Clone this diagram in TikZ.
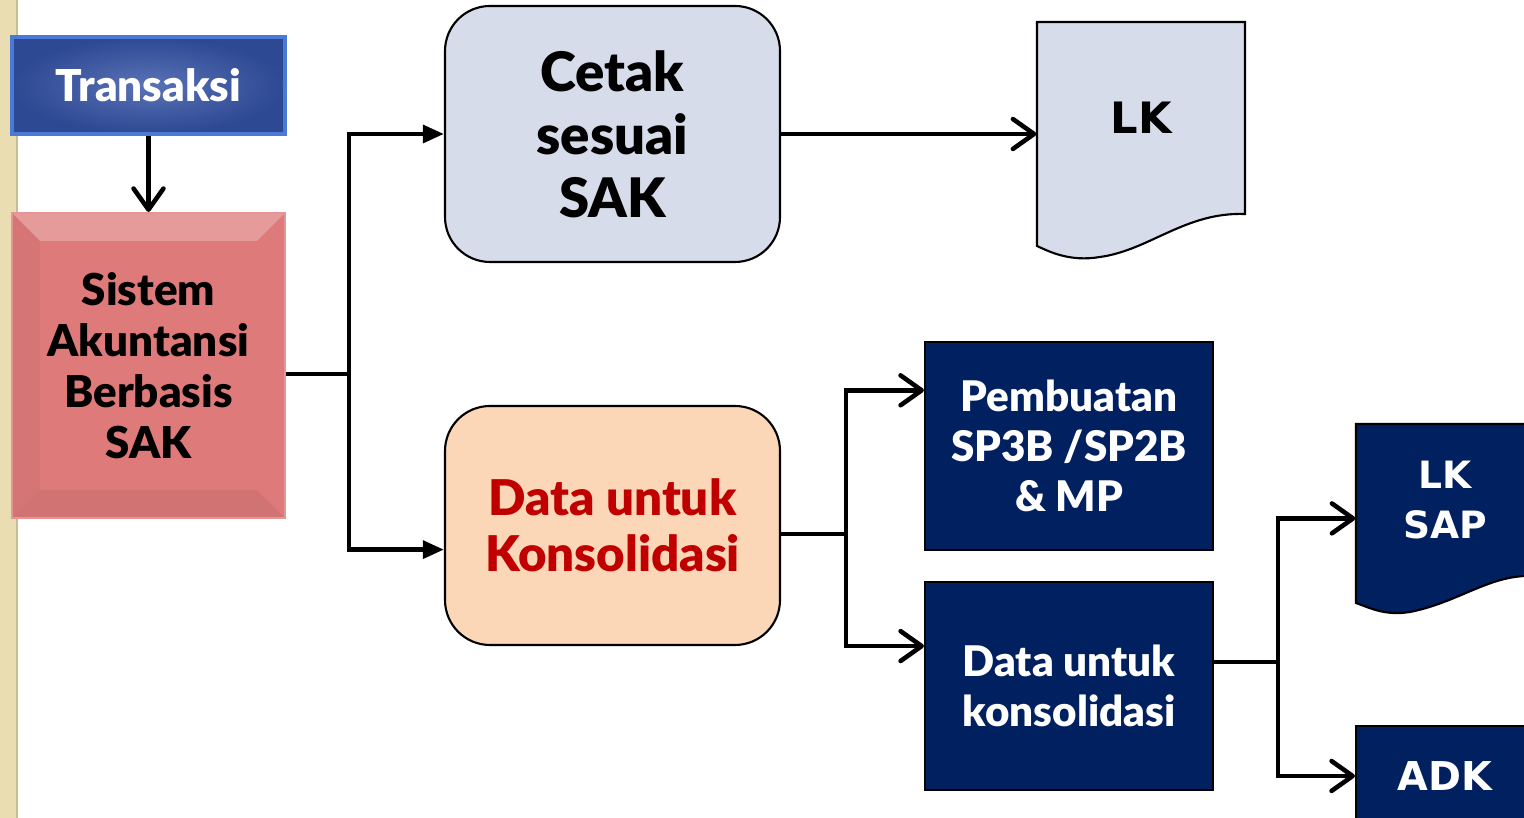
\documentclass[tikz,border=0pt]{standalone}
\usepackage{fontspec}
\setmainfont{Lato}[BoldFont={Lato Black}]
\newfontfamily\verdanafont{DejaVu Sans}
\usetikzlibrary{calc, positioning, arrows.meta}
\definecolor{navy}{HTML}{002060}
\definecolor{cetakblue}{HTML}{D7DCEA}
\definecolor{peach}{HTML}{FBD6B7}
\definecolor{konred}{HTML}{C00000}
\definecolor{sakred}{HTML}{DE7A7A}
\definecolor{transin}{HTML}{5A72B6}
\definecolor{transout}{HTML}{2D4993}
\definecolor{transedge}{HTML}{4A7AD6}
\definecolor{strip}{HTML}{E9DDB1}
\tikzset{
  font=\bfseries,
  % Set arrowhead
  >={Triangle[length=6pt, width=5pt]},
  % Open arrowhead
  barb/.style={-{Straight Barb[round, length=6pt, width=8.5pt]}},
  % Connectors
  conn/.style={line width=1.3pt},
  % General box
  box/.style={draw, line width=0.6pt, inner sep=0pt, align=center},
  % Top input box
  transbox/.style={box, draw=transedge, line width=1.1pt, inner color=transin,
    outer color=transout, text=white, minimum width=2.73cm, minimum height=0.97cm,
    font=\bfseries\fontsize{12.5}{15}\selectfont},
  % Bevelled system box
  sakbox/.style={box, draw=sakred!80!white, fill=sakred, minimum width=2.73cm,
    minimum height=3.05cm, font=\bfseries\fontsize{12.5}{14.5}\selectfont,
    path picture={
      \fill[white, opacity=0.25] (path picture bounding box.north west)
        -- (path picture bounding box.north east) -- ++(-0.28,-0.28)
        -- ($(path picture bounding box.north west)+(0.28,-0.28)$) -- cycle;
      \fill[black, opacity=0.05] (path picture bounding box.south west)
        -- (path picture bounding box.south east) -- ++(-0.28,0.28)
        -- ($(path picture bounding box.south west)+(0.28,0.28)$) -- cycle;
      \fill[black, opacity=0.04] (path picture bounding box.north west)
        -- (path picture bounding box.south west) -- ++(0.28,0.28)
        -- ($(path picture bounding box.north west)+(0.28,-0.28)$) -- cycle;
    }},
  % Rounded process boxes
  rbox/.style={box, rounded corners=0.45cm, minimum width=3.35cm},
  cetakbox/.style={rbox, fill=cetakblue, minimum height=2.56cm,
    font=\bfseries\fontsize{15.5}{17.9}\selectfont},
  kbox/.style={rbox, fill=peach, text=konred, minimum height=2.39cm,
    font=\bfseries\fontsize{14}{15.9}\selectfont},
  % Dark output boxes
  nbox/.style={box, fill=navy, text=white, minimum width=2.88cm, minimum height=2.08cm,
    font=\bfseries\fontsize{12}{14.2}\selectfont},
  % Document shapes
  docline/.style={line width=0.6pt},
  docnode/.style={inner sep=0pt, align=center},
}
\begin{document}
\begin{tikzpicture}
    \useasboundingbox (0,0) rectangle (15.24,-8.18);
    \clip (0,0) rectangle (15.24,-8.18);

    % left margin strip
    \fill[strip] (0,0) rectangle (0.17,-8.18);
    \draw[strip!85!black, line width=0.4pt] (0.17,0) -- (0.17,-8.18);

    \node[transbox] (trans) at (1.485,-0.855) {Transaksi};
    \node[sakbox] (sistem) at (1.485,-3.655) {Sistem\\Akuntansi\\Berbasis\\SAK};

    \node[cetakbox] (cetak) at (6.125,-1.34) {Cetak\\sesuai\\SAK};
    \node[kbox] (datak) at (6.125,-5.255) {Data untuk\\Konsolidasi};

    \node[nbox] (pemb) at (10.69,-4.46) {Pembuatan\\SP3B /SP2B\\\& MP};
    \node[nbox] (dkons) at (10.69,-6.86) {Data untuk\\konsolidasi};

    % documents
    \draw[docline, fill=cetakblue] (10.37,-0.22) -- (12.45,-0.22) -- (12.45,-2.14)
      .. controls (11.85,-2.12) and (11.5,-2.50) .. (11.0,-2.57)
      .. controls (10.7,-2.62) and (10.5,-2.52) .. (10.37,-2.46) -- cycle;
    \node[docnode, minimum width=2.08cm, minimum height=1.92cm,
      font=\verdanafont\bfseries\fontsize{12.3}{14}\selectfont] (lk) at (11.41,-1.18) {LK};

    \draw[docline, fill=navy] (13.56,-4.24) -- (15.34,-4.24) -- (15.34,-5.76)
      .. controls (14.9,-5.74) and (14.6,-6.02) .. (14.1,-6.12)
      .. controls (13.85,-6.16) and (13.7,-6.08) .. (13.56,-6.03) -- cycle;
    \node[docnode, text=white, minimum width=1.78cm, minimum height=1.52cm,
      font=\verdanafont\bfseries\fontsize{10.7}{14.2}\selectfont] (lksap) at (14.45,-5.0) {LK\\SAP};
    \node[nbox, minimum width=1.78cm, minimum height=1.0cm,
      font=\verdanafont\bfseries\fontsize{11.3}{14}\selectfont] (adk) at (14.45,-7.76) {ADK};

    % connectors
    \draw[conn, barb] (trans) -- (sistem);
    \draw[conn] ($(sistem.north east)!0.528!(sistem.south east)$) -- ++(0.63,0) coordinate (j1);
    \draw[conn, ->] (j1) |- (cetak.west);
    \draw[conn, ->] (j1) |- ($(datak.north west)!0.6!(datak.south west)$);
    \draw[conn, barb] (cetak.east) -- (cetak.east -| lk.west);

    \draw[conn] ($(datak.north east)!0.535!(datak.south east)$) -- ++(0.65,0) coordinate (j2);
    \draw[conn, barb] (j2) |- ($(pemb.north west)!0.235!(pemb.south west)$);
    \draw[conn, barb] (j2) |- ($(dkons.north west)!0.31!(dkons.south west)$);

    \draw[conn] ($(dkons.north east)!0.385!(dkons.south east)$) -- ++(0.64,0) coordinate (j3);
    \draw[conn, barb] (j3) |- ($(lksap.north west)!0.62!(lksap.south west)$);
    \draw[conn, barb] (j3) |- (adk.west);
\end{tikzpicture}
\end{document}
